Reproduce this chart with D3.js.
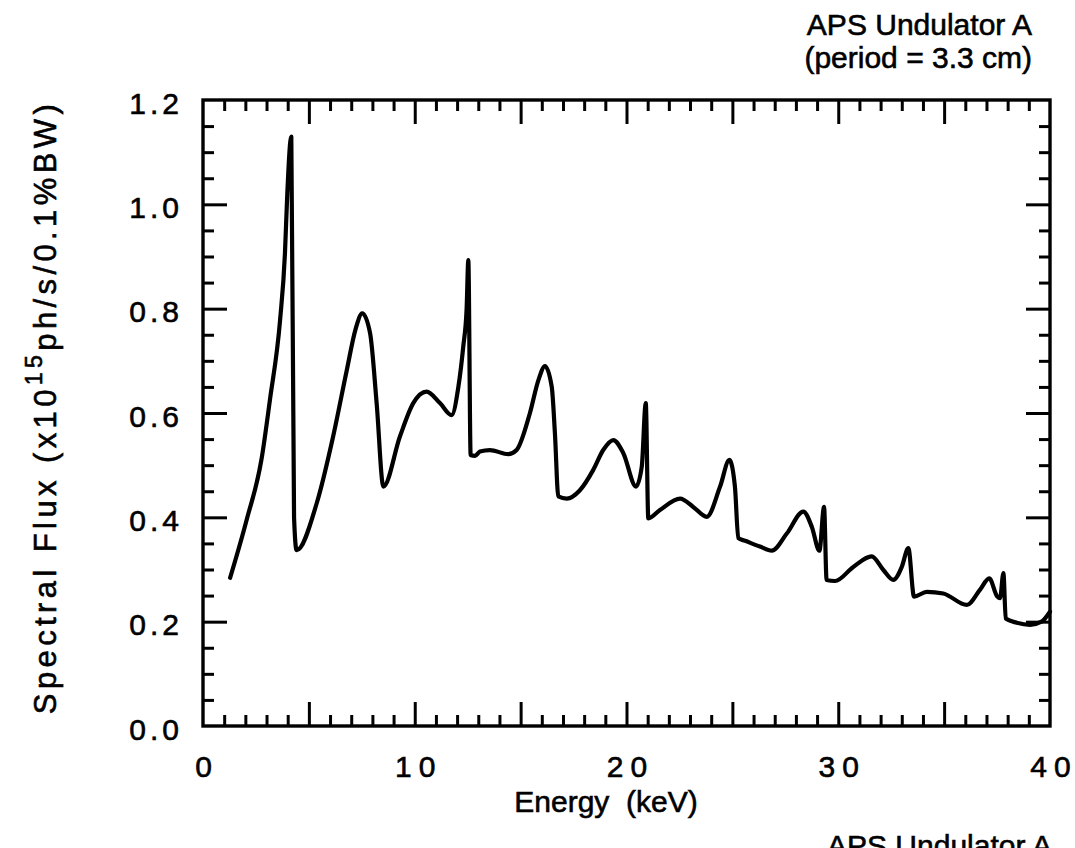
<!DOCTYPE html>
<html>
<head>
<meta charset="utf-8">
<script src="https://cdn.jsdelivr.net/npm/d3@7"></script>
<style>
  body { margin: 0; background: #fff; }
  svg text { font-family: "Liberation Sans", Arial, Helvetica, sans-serif; fill: #000; stroke: #000; stroke-width: 0.6px; }
</style>
</head>
<body>
<svg id="chart" width="1075" height="848"></svg>
<script>
// Photon energy (keV) along the computed undulator spectrum
const energy = [
  1.28, 2.06, 2.77, 3.16, 3.64, 3.87, 3.98, 4.17, 4.30, 4.42,
  5.37, 6.14, 6.79, 7.20, 7.52, 7.89, 8.20, 8.52, 9.30, 9.93,
  10.56, 11.19, 11.74, 12.06, 12.29, 12.45, 12.53, 12.64, 12.85, 13.08,
  13.55, 14.42, 14.81, 15.44, 15.84, 16.15, 16.47, 16.62, 16.78, 17.18,
  17.80, 18.43, 18.90, 19.38, 19.85, 20.45, 20.72, 20.91, 21.03, 21.58,
  22.53, 23.15, 23.79, 24.42, 24.86, 25.12, 25.28, 25.60, 26.30, 26.86,
  27.57, 28.35, 28.75, 29.11, 29.33, 29.45, 29.85, 30.71, 31.58, 32.13,
  32.60, 33.00, 33.31, 33.58, 34.18, 34.96, 36.07, 36.69, 37.13, 37.51,
  37.64, 37.80, 37.91, 38.43, 39.06, 39.60, 40.00
];

// Spectral flux (x10^15 ph/s/0.1%BW) at each energy
const flux = [
  0.284, 0.395, 0.513, 0.625, 0.778, 0.906, 1.020, 1.130, 0.400, 0.337,
  0.427, 0.554, 0.682, 0.760, 0.791, 0.753, 0.619, 0.459, 0.555, 0.619,
  0.641, 0.619, 0.596, 0.650, 0.727, 0.800, 0.893, 0.519, 0.518, 0.526,
  0.529, 0.521, 0.529, 0.600, 0.663, 0.690, 0.650, 0.561, 0.440, 0.436,
  0.452, 0.491, 0.529, 0.548, 0.523, 0.459, 0.497, 0.619, 0.398, 0.414,
  0.436, 0.420, 0.401, 0.459, 0.510, 0.459, 0.360, 0.355, 0.344, 0.336,
  0.369, 0.411, 0.382, 0.336, 0.420, 0.280, 0.278, 0.305, 0.325, 0.299,
  0.280, 0.305, 0.341, 0.248, 0.257, 0.254, 0.232, 0.261, 0.283, 0.248,
  0.245, 0.293, 0.206, 0.198, 0.194, 0.200, 0.219
];

const xLabelTicks = [0, 10, 20, 30, 40];
const xMajorTicks = [5, 10, 15, 20, 25, 30, 35];
const xMinorTicks = d3.range(1, 40).filter(v => v % 5 !== 0);
const yLabelTicks = [0.0, 0.2, 0.4, 0.6, 0.8, 1.0, 1.2];
const yMajorTicks = [0.2, 0.4, 0.6, 0.8, 1.0];
const yMinorTicks = d3.range(1, 24).filter(i => i % 4 !== 0).map(i => i * 0.05);

const xAxisTitle = "Energy  (keV)";
const titleLines = ["APS Undulator A", "(period = 3.3 cm)"];

const svg = d3.select("#chart");
const plotL = 203, plotR = 1050, plotT = 100, plotB = 726;

const x = d3.scaleLinear().domain([0, 40]).range([plotL, plotR]);
const y = d3.scaleLinear().domain([0, 1.2]).range([plotB, plotT]);

const majorLen = 24, minorLen = 11;

function tickGroup(axisFn, scale, values, len, transform) {
  const g = svg.append("g").attr("transform", transform)
    .call(axisFn(scale).tickValues(values).tickSize(-len).tickSizeOuter(0).tickFormat(""));
  g.select(".domain").remove();
  g.selectAll(".tick line").attr("stroke", "#000").attr("stroke-width", 3);
  return g;
}

// inward ticks on all four sides
[[xMinorTicks, minorLen], [xMajorTicks, majorLen]].forEach(([vals, len]) => {
  tickGroup(d3.axisBottom, x, vals, len, `translate(0,${plotB})`);
  tickGroup(d3.axisTop, x, vals, len, `translate(0,${plotT})`);
});
[[yMinorTicks, minorLen], [yMajorTicks, majorLen]].forEach(([vals, len]) => {
  tickGroup(d3.axisLeft, y, vals, len, `translate(${plotL},0)`);
  tickGroup(d3.axisRight, y, vals, len, `translate(${plotR},0)`);
});

// frame
svg.append("rect")
  .attr("x", plotL).attr("y", plotT)
  .attr("width", plotR - plotL).attr("height", plotB - plotT)
  .attr("fill", "none").attr("stroke", "#000").attr("stroke-width", 3.4);

// tick labels
const xl = svg.append("g").attr("transform", `translate(0,${plotB})`)
  .call(d3.axisBottom(x).tickValues(xLabelTicks).tickSize(0).tickPadding(0).tickFormat(d3.format("d")));
xl.select(".domain").remove();
xl.selectAll("text")
  .attr("y", 51).attr("dy", null)
  .attr("font-size", 30).attr("letter-spacing", 7)
  .attr("font-family", '"Liberation Sans", Arial, sans-serif')
  .attr("dx", 3.5);

const yl = svg.append("g").attr("transform", `translate(${plotL},0)`)
  .call(d3.axisLeft(y).tickValues(yLabelTicks).tickSize(0).tickPadding(0).tickFormat(d3.format(".1f")));
yl.select(".domain").remove();
yl.selectAll("text")
  .attr("x", -20).attr("dy", 13)
  .attr("font-size", 30).attr("letter-spacing", 4)
  .attr("font-family", '"Liberation Sans", Arial, sans-serif');

// spectrum curve
const pts = energy.map((e, i) => [e, flux[i]]);
svg.append("path")
  .datum(pts)
  .attr("fill", "none").attr("stroke", "#000").attr("stroke-width", 4.2)
  .attr("stroke-linejoin", "round").attr("stroke-linecap", "round")
  .attr("d", d3.line().x(d => x(d[0])).y(d => y(d[1])).curve(d3.curveMonotoneX));

// axis titles
svg.append("text")
  .attr("x", 606).attr("y", 812)
  .attr("text-anchor", "middle").attr("font-size", 30)
  .attr("xml:space", "preserve")
  .text(xAxisTitle);

const yt = svg.append("text")
  .attr("transform", "translate(56,407) rotate(-90)")
  .attr("text-anchor", "middle").attr("font-size", 31).attr("letter-spacing", 4.4);
yt.append("tspan").text("Spectral Flux (x10");
yt.append("tspan").attr("dy", -14).attr("font-size", 23).text("15");
yt.append("tspan").attr("dy", 14).text("ph/s/0.1%BW)");

// top-right title
titleLines.forEach((t, i) => {
  svg.append("text")
    .attr("x", 1032).attr("y", 35 + i * 33)
    .attr("text-anchor", "end").attr("font-size", 30)
    .text(t);
});

// repeated caption at the bottom edge
svg.append("text")
  .attr("x", 827).attr("y", 856)
  .attr("font-size", 30)
  .text(titleLines[0]);
</script>
</body>
</html>
